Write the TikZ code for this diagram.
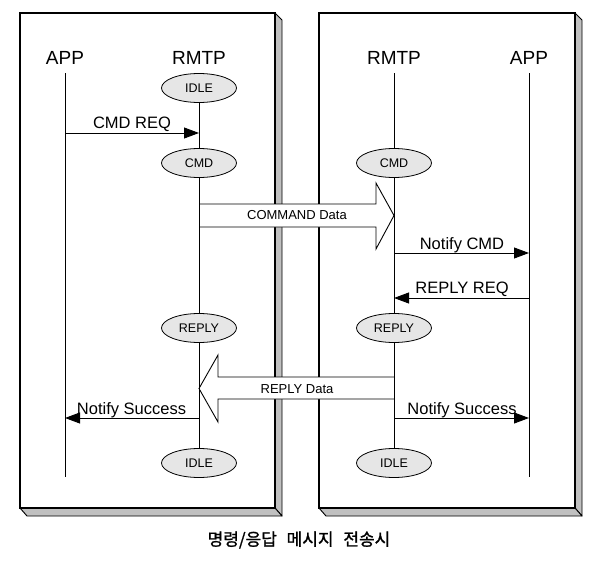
\documentclass[tikz,border=0pt]{standalone}
\usepackage{fontspec}
\setmainfont{Liberation Sans}
\newfontfamily\krfont[FakeBold=1.2]{Noto Sans CJK KR}
\usetikzlibrary{shapes.geometric,arrows.meta}
\definecolor{stategray}{HTML}{E6E6E6}
\definecolor{shadowgray}{HTML}{C0C0C0}
\begin{document}
\begin{tikzpicture}[x=1pt,y=-1pt,
  state/.style={ellipse,draw,line width=0.8pt,fill=stategray,minimum width=75pt,minimum height=29pt,inner sep=0pt,font=\fontsize{12.5}{12.5}\selectfont},
  actor/.style={font=\fontsize{19}{19}\selectfont,anchor=base,inner sep=0pt},
  msg/.style={font=\fontsize{16.5}{16.5}\selectfont,anchor=base,inner sep=0pt},
  datalbl/.style={font=\fontsize{13}{13}\selectfont,anchor=base,inner sep=0pt},
  life/.style={line width=0.9pt},
  call/.style={line width=0.9pt,-{Triangle[length=15pt,width=11pt]}},
  bigarrow/.style={line width=0.9pt,line join=miter,fill=white},
  frame/.style={line width=1.3pt},
  shade/.style={fill=shadowgray,draw,line width=0.9pt,line join=round}
]
\useasboundingbox (0,0) rectangle (598,565);
\fill[white] (0,0) rectangle (598,565);

% frames with 3D edge
\foreach \l/\r in {20/275,319/575}{
  \draw[shade] (\r,13) -- (\r+7,20) -- (\r+7,516) -- (\r,508) -- cycle;
  \draw[shade] (\l,508) -- (\r,508) -- (\r+7,516) -- (\l+7,516) -- cycle;
  \draw[frame] (\l,13) rectangle (\r,508);
}

% big data arrows (white, over the frames)
\draw[bigarrow] (199,204) -- (376,204) -- (376,183) -- (394,215.5) -- (376,249) -- (376,227) -- (199,227);
\node[datalbl] (cmddata) at (297,219.5) {COMMAND Data};
\draw[bigarrow] (394,377) -- (218,377) -- (218,355) -- (199,388.5) -- (218,422) -- (218,399) -- (394,399);
\node[datalbl] (replydata) at (297,393) {REPLY Data};

% actors
\node[actor] (app1) at (65,64) {APP};
\node[actor] (rmtp1) at (199,64) {RMTP};
\node[actor] (rmtp2) at (394,64) {RMTP};
\node[actor] (app2) at (529,64) {APP};

% states
\node[state] (idle1) at (199,88) {IDLE};
\node[state] (cmd1) at (199,163) {CMD};
\node[state] (reply1) at (199,328) {REPLY};
\node[state] (idle1b) at (199,463) {IDLE};
\node[state] (cmd2) at (394,163) {CMD};
\node[state] (reply2) at (394,328) {REPLY};
\node[state] (idle2b) at (394,463) {IDLE};

% lifeline ends
\coordinate (app1top) at (65,73);
\coordinate (app1bot) at (65,477);
\coordinate (app2top) at (529,73);
\coordinate (app2bot) at (529,477);
\coordinate (rmtp2top) at (394,73);

\draw[life] (app1top) -- (app1bot);
\draw[life] (app2top) -- (app2bot);
\draw[life] (idle1) -- (cmd1);
\draw[life] (cmd1) -- (reply1);
\draw[life] (reply1) -- (idle1b);
\draw[life] (rmtp2top) -- (cmd2);
\draw[life] (cmd2) -- (reply2);
\draw[life] (reply2) -- (idle2b);

% message points
\coordinate (m1a) at (65,133);  \coordinate (m1b) at (199,133);
\coordinate (m2a) at (394,253); \coordinate (m2b) at (529,253);
\coordinate (m3a) at (529,298); \coordinate (m3b) at (394,298);
\coordinate (m4a) at (199,418); \coordinate (m4b) at (65,418);
\coordinate (m5a) at (394,418); \coordinate (m5b) at (529,418);

\draw[call] (m1a) -- (m1b);
\draw[call] (m2a) -- (m2b);
\draw[call] (m3a) -- (m3b);
\draw[call] (m4a) -- (m4b);
\draw[call] (m5a) -- (m5b);

\node[msg] (l1) at (132,128) {CMD REQ};
\node[msg] (l2) at (462,249) {Notify CMD};
\node[msg] (l3) at (462,293) {REPLY REQ};
\node[msg] (l4) at (131.5,414) {Notify Success};
\node[msg] (l5) at (462,414) {Notify Success};

% caption
\node[font=\krfont\fontsize{17}{17}\selectfont,inner sep=0pt] (cap) at (299,540) {명령/응답\hspace{6pt} 메시지\hspace{6pt} 전송시};
\end{tikzpicture}
\end{document}
